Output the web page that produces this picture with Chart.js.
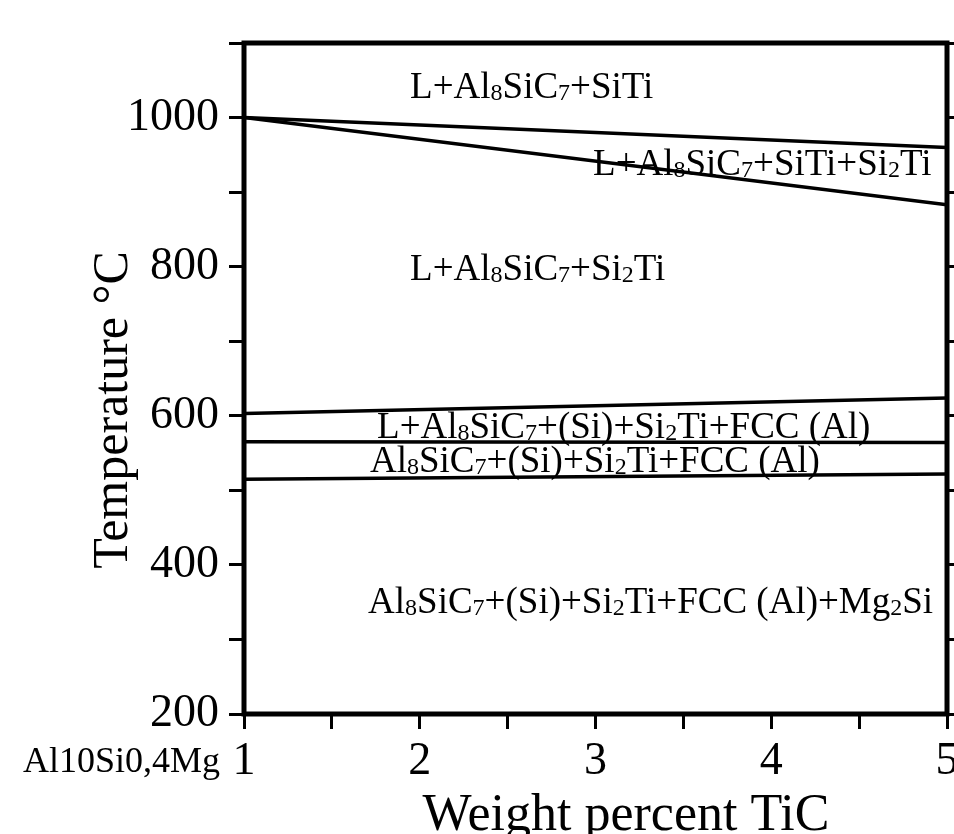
<!DOCTYPE html>
<html>
<head>
<meta charset="utf-8">
<script src="https://cdn.jsdelivr.net/npm/chart.js@4.4.0/dist/chart.umd.min.js"></script>
<style>
  html, body { margin: 0; padding: 0; background: #fff; }
</style>
</head>
<body>
<canvas id="plot" width="954" height="834"></canvas>
<script>
const tic = [1, 5];

// phase boundaries, temperature (°C) at x = 1 and x = 5
const liquidusUpper = [1000, 960];
const liquidusLower = [1000, 883];
const eutecticStart = [603, 624];
const fccStart = [565, 564];
const solidus = [515, 522];

// phase field labels ("_n" = subscript) and where they sit (wt.% TiC, °C)
const regionText = [
  'L+Al_8SiC_7+SiTi',
  'L+Al_8SiC_7+SiTi+Si_2Ti',
  'L+Al_8SiC_7+Si_2Ti',
  'L+Al_8SiC_7+(Si)+Si_2Ti+FCC (Al)',
  'Al_8SiC_7+(Si)+Si_2Ti+FCC (Al)',
  'Al_8SiC_7+(Si)+Si_2Ti+FCC (Al)+Mg_2Si'
];
const regionX = [1.945, 2.986, 1.945, 1.757, 1.717, 1.706];
const regionT = [1026, 923, 782, 570, 525, 335];

const serif = '"Liberation Serif", "Times New Roman", serif';

function toPoints(temps) {
  return tic.map((v, i) => ({ x: v, y: temps[i] }));
}

// text with small numeric subscripts
function drawChem(ctx, str, x0, y0, size) {
  const parts = str.split(/_(\d)/);
  let x = x0;
  parts.forEach((p, k) => {
    const sub = k % 2 === 1;
    ctx.font = (sub ? Math.round(size * 0.64) : size) + 'px ' + serif;
    ctx.fillText(p, x, y0 + (sub ? 2 : 0));
    x += ctx.measureText(p).width;
  });
}

const annotate = {
  id: 'annotate',
  beforeDatasetsDraw(chart) {
    const { ctx, scales: { x, y } } = chart;
    ctx.save();
    ctx.fillStyle = '#000';
    ctx.textAlign = 'left';
    ctx.textBaseline = 'alphabetic';
    regionText.forEach((txt, i) => {
      drawChem(ctx, txt, x.getPixelForValue(regionX[i]), y.getPixelForValue(regionT[i]), 37);
    });
    ctx.restore();
  },
  afterDraw(chart) {
    const { ctx, chartArea: a } = chart;
    ctx.save();
    // frame
    ctx.lineWidth = 5;
    ctx.strokeStyle = '#000';
    ctx.strokeRect(a.left, a.top, a.right - a.left, a.bottom - a.top);

    ctx.fillStyle = '#000';
    ctx.textBaseline = 'alphabetic';

    // x title
    ctx.font = '52px ' + serif;
    ctx.textAlign = 'center';
    ctx.fillText('Weight percent TiC', 626, 830);

    // alloy name under the y axis
    ctx.font = '36px ' + serif;
    ctx.textAlign = 'right';
    ctx.fillText('Al10Si0,4Mg', 220, 772);

    // y title
    ctx.translate(127, 410);
    ctx.rotate(-Math.PI / 2);
    ctx.font = '50px ' + serif;
    ctx.textAlign = 'center';
    ctx.fillText('Temperature °C', 0, 0);
    ctx.restore();
  }
};

const lineStyle = {
  borderColor: '#000',
  borderWidth: 3.5,
  pointRadius: 0,
  fill: false,
  tension: 0
};

const ctx = document.getElementById('plot');
new Chart(ctx, {
  type: 'line',
  data: {
    datasets: [
      { label: 'liquidus upper', data: toPoints(liquidusUpper), ...lineStyle },
      { label: 'liquidus lower', data: toPoints(liquidusLower), ...lineStyle },
      { label: 'eutectic', data: toPoints(eutecticStart), ...lineStyle },
      { label: 'fcc', data: toPoints(fccStart), ...lineStyle },
      { label: 'solidus', data: toPoints(solidus), ...lineStyle }
    ]
  },
  options: {
    responsive: false,
    animation: false,
    layout: { padding: { top: 43, left: 0, right: 0, bottom: 0 } },
    plugins: {
      legend: { display: false },
      tooltip: { enabled: false }
    },
    scales: {
      x: {
        type: 'linear',
        position: 'bottom',
        min: 1,
        max: 5,
        ticks: {
          stepSize: 0.5,
          autoSkip: false,
          maxRotation: 0,
          padding: 5,
          color: '#000',
          font: { family: serif, size: 46 },
          callback: (v) => Number.isInteger(v) ? String(v) : ''
        },
        grid: { drawOnChartArea: false, tickLength: 15, color: '#000', lineWidth: 3 },
        border: { display: false },
        afterFit: (s) => { s.height = 120; s.paddingLeft = 0; s.paddingRight = 0; }
      },
      y: {
        position: 'left',
        min: 200,
        max: 1100,
        ticks: {
          stepSize: 100,
          autoSkip: false,
          padding: 10,
          color: '#000',
          font: { family: serif, size: 46 },
          callback: (v) => v % 200 === 0 ? String(v) : ''
        },
        grid: { drawOnChartArea: false, tickLength: 15, color: '#000', lineWidth: 3 },
        border: { display: false },
        afterFit: (s) => { s.width = 244; s.paddingTop = 0; s.paddingBottom = 0; }
      },
      y2: {
        position: 'right',
        min: 200,
        max: 1100,
        ticks: { stepSize: 100, display: false },
        grid: { drawOnChartArea: false, tickLength: 15, color: '#000', lineWidth: 3 },
        border: { display: false },
        afterFit: (s) => { s.width = 7; s.paddingTop = 0; s.paddingBottom = 0; }
      }
    }
  },
  plugins: [annotate]
});
</script>
</body>
</html>
